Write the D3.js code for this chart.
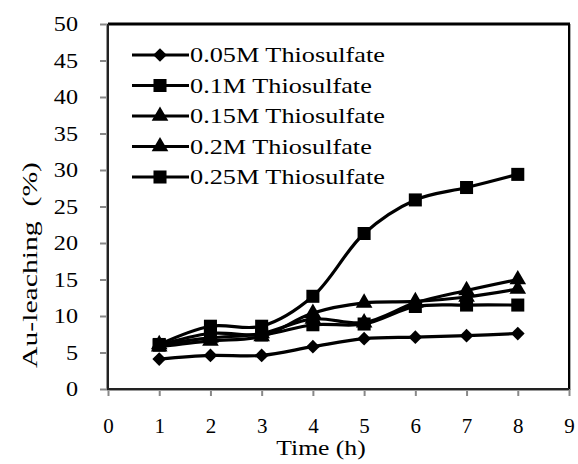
<!DOCTYPE html>
<html><head><meta charset="utf-8">
<script src="https://cdn.jsdelivr.net/npm/d3@7"></script>
<style>body{margin:0;background:#fff}svg{display:block}text{font-family:"Liberation Serif","Times New Roman",serif}</style>
</head><body><svg id="c" width="578" height="464"></svg>
<script>
const hours = [1,2,3,4,5,6,7,8];
const seriesNames = ["0.05M Thiosulfate","0.1M Thiosulfate","0.15M Thiosulfate","0.2M Thiosulfate","0.25M Thiosulfate"];
const seriesSymbols = ["diamond","square","triangle","triangle","square"];
const s005 = [4.1, 4.6, 4.6, 5.8, 6.9, 7.1, 7.3, 7.6];
const s010 = [6.0, 7.6, 7.4, 8.8, 8.9, 11.3, 11.5, 11.5];
const s015 = [5.8, 6.6, 7.2, 10.4, 11.8, 12.0, 12.6, 13.7];
const s020 = [6.1, 7.0, 7.6, 9.6, 9.1, 11.8, 13.5, 15.0];
const s025 = [6.1, 8.6, 8.6, 12.7, 21.3, 25.9, 27.6, 29.4];
const seriesValues = [s005, s010, s015, s020, s025];
const xTicks = [0,1,2,3,4,5,6,7,8,9];
const yTicks = [0,5,10,15,20,25,30,35,40,45,50];

const svg = d3.select("#c");
const L = 108, R = 569, T = 24, B = 389;
const x = d3.scaleLinear().domain([0,9]).range([L,R]);
const y = d3.scaleLinear().domain([0,50]).range([B,T]);
const font = '"Liberation Serif","Times New Roman",serif';

function stretch(sel, f){
  sel.each(function(){
    const w = this.getComputedTextLength();
    d3.select(this).attr("textLength", w*f).attr("lengthAdjust","spacingAndGlyphs");
  });
}

// frame
svg.append("line").attr("x1",L).attr("x2",R+1).attr("y1",T).attr("y2",T).attr("stroke","#000").attr("stroke-width",3);
svg.append("line").attr("x1",R).attr("x2",R).attr("y1",T).attr("y2",B).attr("stroke","#000").attr("stroke-width",2);
svg.append("line").attr("x1",R+1.5).attr("x2",R+1.5).attr("y1",T).attr("y2",B+1).attr("stroke","#aaa").attr("stroke-width",1);

// axes
const xAxis = svg.append("g").attr("transform",`translate(0,${B})`)
  .call(d3.axisBottom(x).tickValues(xTicks).tickSize(7).tickPadding(22).tickFormat(d3.format("d")));
const yAxis = svg.append("g").attr("transform",`translate(${L},0)`)
  .call(d3.axisLeft(y).tickValues(yTicks).tickSize(8).tickPadding(22).tickFormat(d3.format("d")));
[xAxis,yAxis].forEach(a=>{
  a.attr("font-family",null).attr("font-size",null);
  a.select(".domain").remove();
  a.selectAll(".tick line").attr("stroke","#888").attr("stroke-width",2);
  a.selectAll("text").style("font-family",font).attr("font-size",21).attr("fill","#000");
});
stretch(yAxis.selectAll("text"),1.15);
svg.append("line").attr("x1",L-1).attr("x2",R).attr("y1",B).attr("y2",B).attr("stroke","#222").attr("stroke-width",2);
svg.append("line").attr("x1",L).attr("x2",L).attr("y1",T).attr("y2",B).attr("stroke","#222").attr("stroke-width",2);
svg.append("line").attr("x1",L-1).attr("x2",R).attr("y1",B+1.5).attr("y2",B+1.5).attr("stroke","#999").attr("stroke-width",1);
svg.append("line").attr("x1",L-1.5).attr("x2",L-1.5).attr("y1",T).attr("y2",B).attr("stroke","#999").attr("stroke-width",1);

// titles
const xt = svg.append("text").attr("x",321).attr("y",455).attr("text-anchor","middle")
  .style("font-family",font).attr("font-size",21).text("Time (h)");
stretch(xt,1.22);
const yt = svg.append("text").attr("transform","translate(37,265) rotate(-90)").attr("text-anchor","middle")
  .style("font-family",font).attr("font-size",22).attr("xml:space","preserve").text("Au-leaching  (%)");
yt.attr("textLength",206).attr("lengthAdjust","spacingAndGlyphs");

const symMap = {
  diamond: d3.symbol().type(d3.symbolDiamond2).size(120),
  square: d3.symbol().type(d3.symbolSquare).size(170),
  triangle: d3.symbol().type(d3.symbolTriangle).size(120)
};
const line = d3.line().x((d,i)=>x(hours[i])).y(d=>y(d)).curve(d3.curveCatmullRom.alpha(0.5));

seriesValues.forEach((vals,si)=>{
  svg.append("path").attr("d",line(vals)).attr("fill","none").attr("stroke","#000").attr("stroke-width",3.2);
  svg.append("g").selectAll("path").data(vals).join("path")
    .attr("transform",(d,i)=>`translate(${x(hours[i])},${y(d)})`)
    .attr("d",symMap[seriesSymbols[si]]()).attr("fill","#000");
});

// legend
const lg = svg.append("g");
seriesNames.forEach((n,i)=>{
  const ly = 55 + i*30.5;
  lg.append("line").attr("x1",132).attr("x2",189).attr("y1",ly).attr("y2",ly).attr("stroke","#000").attr("stroke-width",3.2);
  lg.append("path").attr("transform",`translate(160,${ly})`).attr("d",symMap[seriesSymbols[i]]()).attr("fill","#000");
  const t = lg.append("text").attr("x",190).attr("y",ly+7).style("font-family",font).attr("font-size",21).text(n);
  stretch(t,1.25);
});
</script></body></html>
